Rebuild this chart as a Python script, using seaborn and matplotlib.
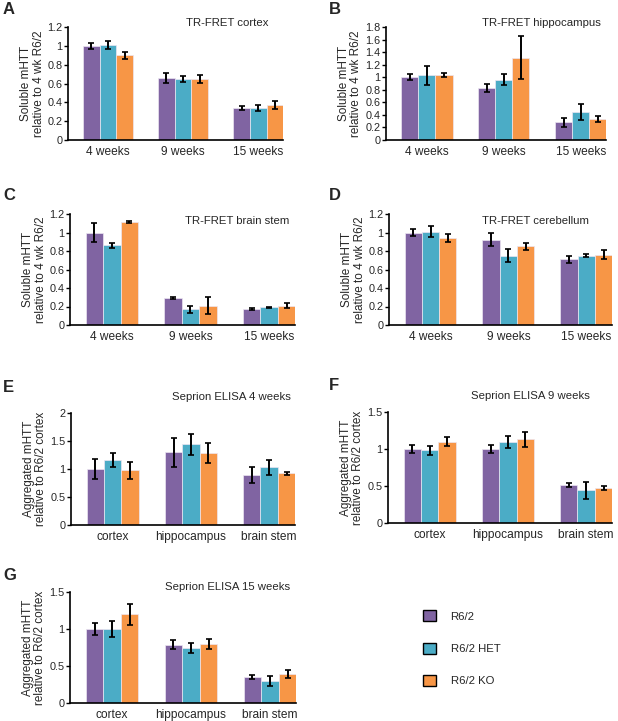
import matplotlib
matplotlib.use("Agg")
import matplotlib.pyplot as plt
from matplotlib.ticker import FuncFormatter, FixedLocator
from matplotlib.patches import Patch
import numpy as np
import pandas as pd
import seaborn as sns

# genotypes / colours
genotypes = ["R6/2", "R6/2 HET", "R6/2 KO"]
colors = ["#8064A2", "#4BACC6", "#F79646"]

ages = ["4 weeks", "9 weeks", "15 weeks"]
regions = ["cortex", "hippocampus", "brain stem"]

# TR-FRET soluble mHTT (rows = age, cols = genotype)
fret_cortex = [[1.00, 1.01, 0.90], [0.66, 0.65, 0.65], [0.34, 0.34, 0.37]]
fret_cortex_err = [[0.03, 0.045, 0.035], [0.05, 0.03, 0.04], [0.02, 0.03, 0.04]]
fret_hippo = [[1.00, 1.03, 1.04], [0.83, 0.96, 1.31], [0.28, 0.45, 0.33]]
fret_hippo_err = [[0.05, 0.15, 0.03], [0.06, 0.09, 0.34], [0.07, 0.13, 0.05]]
fret_stem = [[1.00, 0.86, 1.11], [0.29, 0.17, 0.21], [0.17, 0.19, 0.21]]
fret_stem_err = [[0.10, 0.03, 0.01], [0.01, 0.04, 0.09], [0.01, 0.01, 0.03]]
fret_cereb = [[1.00, 1.01, 0.94], [0.92, 0.75, 0.85], [0.71, 0.75, 0.76]]
fret_cereb_err = [[0.04, 0.06, 0.045], [0.07, 0.07, 0.04], [0.04, 0.02, 0.05]]

# Seprion ELISA aggregated mHTT (rows = region, cols = genotype)
elisa_4w = [[1.00, 1.16, 0.98], [1.30, 1.44, 1.28], [0.89, 1.03, 0.92]]
elisa_4w_err = [[0.17, 0.13, 0.15], [0.26, 0.19, 0.18], [0.14, 0.13, 0.03]]
elisa_9w = [[1.00, 0.98, 1.10], [1.00, 1.09, 1.13], [0.51, 0.44, 0.47]]
elisa_9w_err = [[0.05, 0.06, 0.06], [0.05, 0.08, 0.10], [0.03, 0.11, 0.03]]
elisa_15w = [[1.00, 1.00, 1.20], [0.79, 0.74, 0.80], [0.35, 0.30, 0.39]]
elisa_15w_err = [[0.08, 0.11, 0.14], [0.06, 0.07, 0.07], [0.03, 0.07, 0.05]]

sns.set_style("white")
plt.rcParams['font.family'] = ['Liberation Sans', 'DejaVu Sans']

W, H = 618, 721
fig = plt.figure(figsize=(W / 100, H / 100), dpi=100)


def px_axes(l, t, r, b):
    return fig.add_axes([l / W, 1 - b / H, (r - l) / W, (b - t) / H])


def panel(rect, cats, vals, errs, ymax, ystep, ylabel, title, title_xy, letter, letter_xy):
    ax = px_axes(*rect)
    rows = []
    for i, c in enumerate(cats):
        for j, g in enumerate(genotypes):
            rows.append({"cat": c, "geno": g, "val": vals[i][j], "err": errs[i][j]})
    df = pd.DataFrame(rows)
    sns.barplot(data=df, x="cat", y="val", hue="geno", hue_order=genotypes,
                palette=colors, width=0.667, gap=0, errorbar=None, ax=ax,
                legend=False, edgecolor="#ece6f2", linewidth=0.5, saturation=1)
    bar_conts = list(ax.containers)
    for j, cont in enumerate(bar_conts):
        xs = [p.get_x() + p.get_width() / 2 for p in cont.patches]
        ys = df[df.geno == genotypes[j]]["val"].values
        es = df[df.geno == genotypes[j]]["err"].values
        ax.errorbar(xs, ys, yerr=es, fmt="none", ecolor="black", elinewidth=1.4,
                    capsize=2.2, capthick=1.2, zorder=5)
    ax.set_xlim(-0.533, 2.33)
    ax.set_ylim(0, ymax)
    ax.set_yticks(np.arange(0, ymax + 1e-6, ystep))
    ax.yaxis.set_major_formatter(FuncFormatter(lambda v, p: "%g" % round(v, 2)))
    ax.xaxis.set_minor_locator(FixedLocator([0.5, 1.5, 2.33]))
    ax.tick_params(axis="x", which="major", length=0, labelsize=8.6, pad=4)
    ax.tick_params(axis="x", which="minor", length=3, width=1, direction="out", color="black")
    ax.tick_params(axis="y", length=3, width=1, direction="out", labelsize=7.8, pad=1, color="black", left=True)
    ax.set_xlabel("")
    ax.set_ylabel(ylabel, fontsize=8.5, labelpad=2, linespacing=1.1)
    sns.despine(ax=ax)
    for s in ["left", "bottom"]:
        ax.spines[s].set_color("black")
        ax.spines[s].set_linewidth(1.2)
    fig.text(title_xy[0] / W, 1 - title_xy[1] / H, title, ha="center", va="center", fontsize=8.2)
    fig.text(letter_xy[0] / W, 1 - letter_xy[1] / H, letter, ha="left", va="center",
             fontsize=12, fontweight="bold")
    return ax


sol = "Soluble mHTT\nrelative to 4 wk R6/2"
agg = "Aggregated mHTT\nrelative to R6/2 cortex"

panel((68, 27, 283, 140), ages, fret_cortex, fret_cortex_err, 1.2, 0.2, sol,
      "TR-FRET cortex", (227, 23), "A", (3, 9))
panel((386, 27, 606, 140), ages, fret_hippo, fret_hippo_err, 1.8, 0.2, sol,
      "TR-FRET hippocampus", (541, 23), "B", (329, 9))
panel((70, 214, 295, 325), ages, fret_stem, fret_stem_err, 1.2, 0.2, sol,
      "TR-FRET brain stem", (237, 221), "C", (3, 195))
panel((389, 214, 612, 325), ages, fret_cereb, fret_cereb_err, 1.2, 0.2, sol,
      "TR-FRET cerebellum", (536, 221), "D", (329, 195))
panel((71, 413, 295, 525), regions, elisa_4w, elisa_4w_err, 2.0, 0.5, agg,
      "Seprion ELISA 4 weeks", (231, 397), "E", (3, 388))
panel((388, 412, 612, 523), regions, elisa_9w, elisa_9w_err, 1.5, 0.5, agg,
      "Seprion ELISA 9 weeks", (530, 396), "F", (329, 385))
panel((70, 592, 296, 703), regions, elisa_15w, elisa_15w_err, 1.5, 0.5, agg,
      "Seprion ELISA 15 weeks", (228, 587), "G", (3, 575))

handles = [Patch(facecolor=c, edgecolor="black", linewidth=1) for c in colors]
fig.legend(handles, genotypes, loc="upper left", bbox_to_anchor=(413 / W, 1 - 600 / H),
           frameon=False, fontsize=8.2, handlelength=1.1, handleheight=1.1,
           labelspacing=1.85, handletextpad=1.3)

fig.savefig("out.png", dpi=100)
